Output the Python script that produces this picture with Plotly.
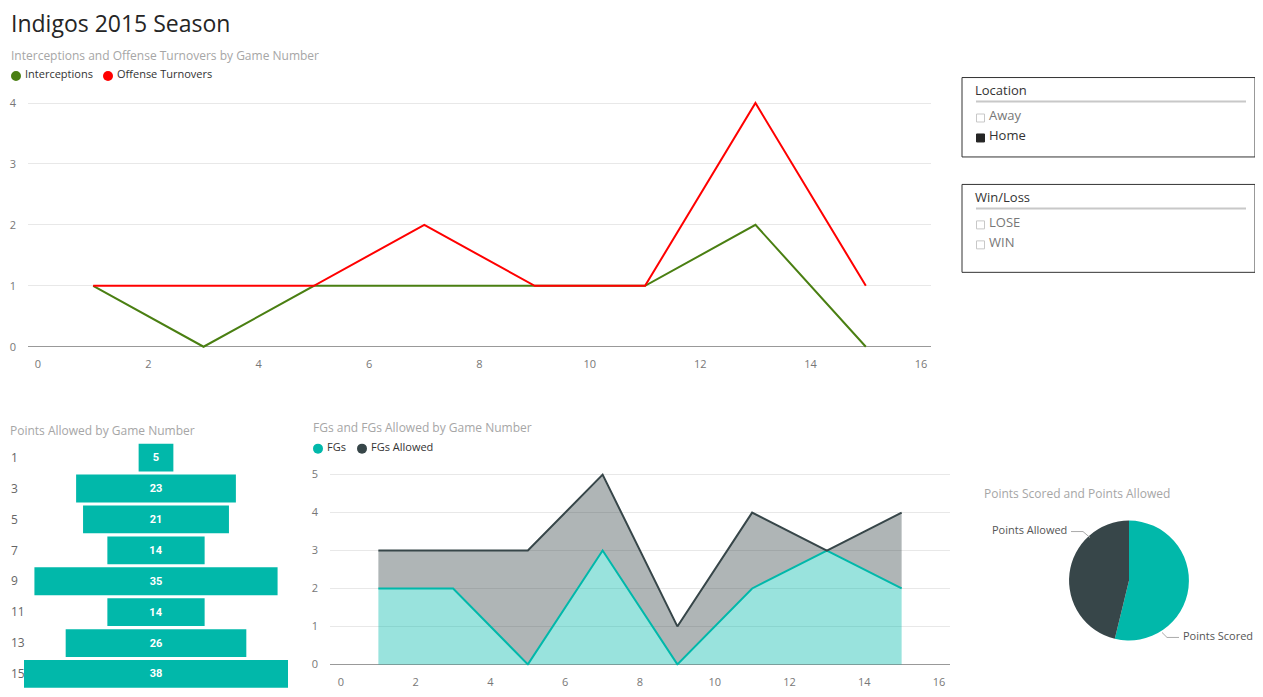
import plotly.graph_objects as go

# ---- data ----
games = [1, 3, 5, 7, 9, 11, 13, 15]
interceptions = [1, 0, 1, 1, 1, 1, 2, 0]
offense_turnovers = [1, 1, 1, 2, 1, 1, 4, 1]

points_allowed = [5, 23, 21, 14, 35, 14, 26, 38]

fgs = [2, 2, 0, 3, 0, 2, 3, 2]
fgs_allowed = [3, 3, 3, 5, 1, 4, 3, 4]

pie_labels = ['Points Scored', 'Points Allowed']
pie_values = [205, 176]

location_items = ['Away', 'Home']
location_selected = [False, True]
winloss_items = ['LOSE', 'WIN']
winloss_selected = [False, False]

# ---- styling ----
# page body has an 8px margin and the capture comes out slightly squeezed
# vertically, so target pixel positions are converted through SY / Y0
OFF = 8
SY, Y0 = 0.9865, 3.0
W, H = 1263 - 2 * OFF, 688
FONT = 'Segoe UI, Open Sans, sans-serif'
GREEN = '#4A7F12'
RED = '#FF0000'
TEAL = '#01B8AA'
DARK = '#374649'
TICK = '#777777'
SUB = '#a6a6a6'


def px_x(v):
    return min(max((v - OFF) / W, 0), 1)


def px_y(v):
    return min(max(1 - ((v - Y0) / SY - OFF) / H, 0), 1)


fig = go.Figure()

# top line chart
fig.add_trace(go.Scatter(x=games, y=interceptions, mode='lines', name='Interceptions',
                         line=dict(color=GREEN, width=2), xaxis='x', yaxis='y'))
fig.add_trace(go.Scatter(x=games, y=offense_turnovers, mode='lines', name='Offense Turnovers',
                         line=dict(color=RED, width=2), xaxis='x', yaxis='y'))

# funnel
fig.add_trace(go.Funnel(y=[str(g) for g in games], x=points_allowed,
                        marker=dict(color=TEAL, line=dict(width=0)),
                        textinfo='value', textposition='inside', insidetextanchor='middle',
                        textfont=dict(family='Roboto', size=11, color='white', weight='bold'),
                        connector=dict(visible=False),
                        xaxis='x3', yaxis='y3'))

# area chart
fig.add_trace(go.Scatter(x=games, y=fgs, mode='lines', name='FGs', fill='tozeroy',
                         fillcolor='rgba(1,184,170,0.4)',
                         line=dict(color=TEAL, width=2), xaxis='x2', yaxis='y2'))
fig.add_trace(go.Scatter(x=games, y=fgs_allowed, mode='lines', name='FGs Allowed', fill='tonexty',
                         fillcolor='rgba(55,70,73,0.4)',
                         line=dict(color=DARK, width=2), xaxis='x2', yaxis='y2'))

# pie
fig.add_trace(go.Pie(labels=pie_labels, values=pie_values, sort=False,
                     direction='clockwise', rotation=0,
                     marker=dict(colors=[TEAL, DARK], line=dict(width=0)),
                     textinfo='none', hoverinfo='label+value',
                     domain=dict(x=[px_x(1069), px_x(1189)], y=[px_y(640), px_y(520)])))

tickfont = dict(family=FONT, size=11, color=TICK)

# funnel x range: widest bar (38) spans 24..288 px, axis domain starts at the figure edge
fl, fr = 24, 288
unit = (fr - fl) / max(points_allowed)
half = max(points_allowed) / 2

fig.update_layout(
    width=W, height=H,
    margin=dict(l=0, r=0, t=0, b=0),
    paper_bgcolor='white', plot_bgcolor='white',
    showlegend=False,
    funnelgap=0.1,
    font=dict(family=FONT),
    xaxis=dict(domain=[px_x(28), px_x(931)], range=[-0.181, 16.181], tick0=0, dtick=2,
               showgrid=False, zeroline=False, showline=False, tickfont=tickfont,
               ticklabelstandoff=8, anchor='y'),
    yaxis=dict(domain=[px_y(347.2), px_y(95.9)], range=[-0.02, 4.1], dtick=1,
               gridcolor='#e8e8e8', zeroline=True, zerolinecolor='#999999', zerolinewidth=1,
               tickfont=tickfont, ticklabelstandoff=11, anchor='x'),
    xaxis2=dict(domain=[px_x(330), px_x(950)], range=[-0.294, 16.294], tick0=0, dtick=2,
                showgrid=False, zeroline=False, showline=False, tickfont=tickfont,
                ticklabelstandoff=8, anchor='y2'),
    yaxis2=dict(domain=[px_y(665.1), px_y(470.2)], range=[-0.03, 5.1], dtick=1,
                gridcolor='#e8e8e8', zeroline=True, zerolinecolor='#999999', zerolinewidth=1,
                tickfont=tickfont, ticklabelstandoff=11, anchor='x2'),
    xaxis3=dict(domain=[0, px_x(fr)], range=[-half - (fl - OFF) / unit, half],
                visible=False, anchor='y3'),
    yaxis3=dict(domain=[px_y(689), px_y(441.5)], type='category', autorange='reversed',
                showgrid=False, zeroline=False, ticklabelposition='inside',
                tickfont=dict(family=FONT, size=12, color='#666666'), anchor='x3'),
)

ann = []
shapes = []


def text(x, y, s, size, color, anchor='left'):
    ann.append(dict(x=px_x(x), y=px_y(y - 0.2 * size), xref='paper', yref='paper', text=s,
                    showarrow=False, xanchor=anchor, yanchor='middle',
                    font=dict(family=FONT, size=size, color=color)))


# page title (a little low so its text box stays inside the top edge)
text(9, 27, 'Indigos 2015 Season', 23, '#252525')

# chart titles
text(9, 57, 'Interceptions and Offense Turnovers by Game Number', 12, SUB)
text(5, 432, 'Points Allowed by Game Number', 12, SUB)
text(311, 429, 'FGs and FGs Allowed by Game Number', 12, SUB)
text(982, 495, 'Points Scored and Points Allowed', 12, SUB)


# legends
def legend_item(cx, cy, color, label):
    shapes.append(dict(type='circle', xref='paper', yref='paper',
                       x0=px_x(cx - 5), x1=px_x(cx + 5), y0=px_y(cy + 5), y1=px_y(cy - 5),
                       fillcolor=color, line=dict(width=0)))
    text(cx + 7, cy, label, 11, '#333333')


legend_item(16, 75, GREEN, 'Interceptions')
legend_item(108, 75, RED, 'Offense Turnovers')
legend_item(318, 448, TEAL, 'FGs')
legend_item(362, 448, DARK, 'FGs Allowed')

# pie labels with leader lines
text(1069, 531, pie_labels[1], 11, '#555555', anchor='right')
text(1181, 637, pie_labels[0], 11, '#555555')
shapes.append(dict(type='path', xref='paper', yref='paper',
                   path=f'M {px_x(1071)},{px_y(531)} L {px_x(1083)},{px_y(531)} L {px_x(1090)},{px_y(537)}',
                   line=dict(color='#aaaaaa', width=1)))
shapes.append(dict(type='path', xref='paper', yref='paper',
                   path=f'M {px_x(1162)},{px_y(632)} L {px_x(1167)},{px_y(637)} L {px_x(1179)},{px_y(637)}',
                   line=dict(color='#aaaaaa', width=1)))


# slicers
def slicer(top, bottom, title, items, selected):
    shapes.append(dict(type='rect', xref='paper', yref='paper',
                       x0=px_x(962), x1=px_x(1259.5), y0=px_y(bottom), y1=px_y(top),
                       line=dict(color='#333333', width=1)))
    text(973, top + 15.5, title, 13, '#333333')
    shapes.append(dict(type='line', xref='paper', yref='paper',
                       x0=px_x(976), x1=px_x(1246), y0=px_y(top + 24), y1=px_y(top + 24),
                       line=dict(color='#c8c8c8', width=2)))
    for i, (item, sel) in enumerate(zip(items, selected)):
        cy = top + 40.5 + 20 * i
        shapes.append(dict(type='rect', xref='paper', yref='paper',
                           x0=px_x(976.5), x1=px_x(984.5), y0=px_y(cy + 4), y1=px_y(cy - 4),
                           fillcolor='#252525' if sel else 'white',
                           line=dict(color='#252525' if sel else '#c8c8c8', width=1)))
        text(987, cy - 0.5, item, 13, '#333333' if sel else '#777777')


slicer(76.5, 156, 'Location', location_items, location_selected)
slicer(183.5, 271.5, 'Win/Loss', winloss_items, winloss_selected)

fig.update_layout(annotations=ann, shapes=shapes)

fig.write_html('out.html')
